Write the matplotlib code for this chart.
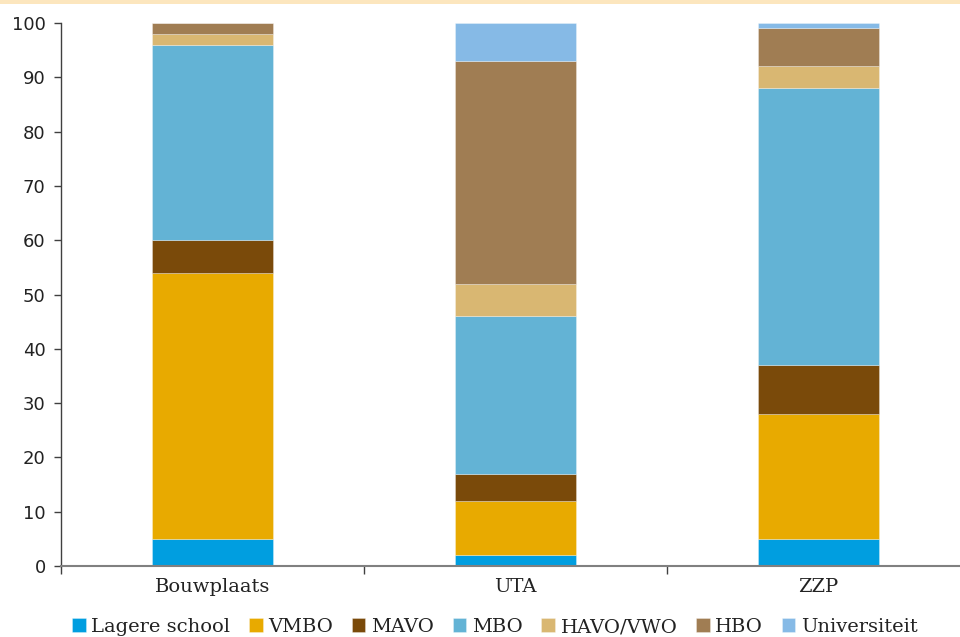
import matplotlib
matplotlib.use("Agg")
import matplotlib.pyplot as plt
import numpy as np
from matplotlib.patches import Rectangle

categories = ["Bouwplaats", "UTA", "ZZP"]
levels = ["Lagere school", "VMBO", "MAVO", "MBO", "HAVO/VWO", "HBO", "Universiteit"]

lagere_school = [5, 2, 5]
vmbo = [49, 10, 23]
mavo = [6, 5, 9]
mbo = [36, 29, 51]
havo_vwo = [2, 6, 4]
hbo = [2, 41, 7]
universiteit = [0, 7, 1]

series = [lagere_school, vmbo, mavo, mbo, havo_vwo, hbo, universiteit]
colors = ["#009EE0", "#E8AA00", "#7A4A0A", "#63B3D5", "#D9B772", "#A07D53", "#86BAE6"]

fig = plt.figure(figsize=(9.6, 6.37), dpi=100)
fig.patches.append(Rectangle((0, 1 - 4 / 637), 1, 4 / 637, transform=fig.transFigure,
                             facecolor="#FCE6BE", edgecolor="none", zorder=0))

ax = fig.add_axes([61 / 960, 71 / 637, 909 / 960, 543 / 637])

x = np.arange(len(categories))
bottom = np.zeros(len(categories))
handles = []
for vals, col, lab in zip(series, colors, levels):
    v = np.array(vals, dtype=float)
    b = ax.bar(x, v, width=0.4, bottom=bottom, color=col, label=lab,
               edgecolor=(1, 1, 1, 0.35), linewidth=0.6, zorder=2)
    handles.append(b)
    bottom += v

ax.set_xlim(-0.5, 2.5)
ax.set_ylim(0, 100)
ax.set_yticks(np.arange(0, 101, 10))
ax.tick_params(axis="y", direction="out", length=5, width=1, colors="#404040",
               labelsize=13, labelcolor="#222222", pad=6)
for t in ax.get_yticklabels():
    t.set_fontfamily("DejaVu Sans")

ax.set_xticks(x)
ax.set_xticklabels(categories, fontfamily="DejaVu Serif", fontsize=14, color="#222222")
ax.tick_params(axis="x", length=0, pad=9)
ax.set_xticks([-0.5, 0.5, 1.5, 2.5], minor=True)
ax.tick_params(axis="x", which="minor", direction="out", length=6, width=1, colors="#404040")

for s in ["top", "right"]:
    ax.spines[s].set_visible(False)
ax.spines["left"].set_color("#404040")
ax.spines["left"].set_linewidth(1)
ax.spines["bottom"].set_color("#808080")
ax.spines["bottom"].set_linewidth(1.5)

fig.legend(handles=handles, labels=levels, loc="center", bbox_to_anchor=(495 / 960, 10 / 637),
           ncol=7, frameon=False, prop={"family": "DejaVu Serif", "size": 14},
           handlelength=0.7, handleheight=0.7, handletextpad=0.3, columnspacing=0.95,
           labelcolor="#222222")

fig.savefig("out.png", dpi=100)
